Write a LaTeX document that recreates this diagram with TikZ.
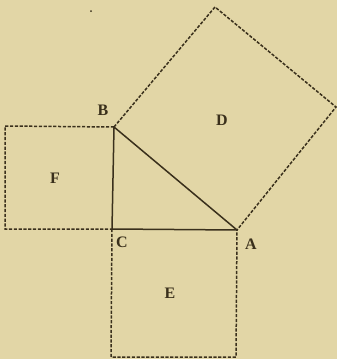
\documentclass[tikz,border=0pt]{standalone}
\usepackage{fontspec}
\setmainfont{Liberation Serif}
\definecolor{paper}{RGB}{226,214,166}
\definecolor{ink}{RGB}{58,48,28}
\begin{document}
\begin{tikzpicture}[x=1pt,y=-1pt,
  solidline/.style={draw=ink,line width=1.5pt},
  dashline/.style={draw=ink,line width=1.5pt,dash pattern=on 3.2pt off 1.6pt},
  lbl/.style={text=ink,font=\bfseries\fontsize{16}{16}\selectfont,inner sep=0pt}]
\fill[paper] (0,0) rectangle (337,359);
\useasboundingbox (0,0) rectangle (337,359);
\coordinate (B) at (114,127);
\coordinate (C) at (112,229);
\coordinate (A) at (237,230);
\coordinate (T) at (215,7);
\coordinate (R) at (336,107);
\coordinate (F1) at (5,126);
\coordinate (F2) at (5,229);
\coordinate (E1) at (111,357);
\coordinate (E2) at (236,357);
% triangle
\draw[solidline,line join=round] (B) -- (C) -- (A) -- cycle;
% square D
\draw[dashline] (B) -- (T) -- (R) -- (A);
% square F
\draw[dashline] (B) -- (F1) -- (F2) -- (C);
% square E
\draw[dashline] (C) -- (E1) -- (E2) -- (A);
% speck
\fill[ink] (91,11) circle (1pt);
% labels
\node[lbl] (lB) at (103,110) {B};
\node[lbl] (lD) at (222,120) {D};
\node[lbl] (lF) at (55,178) {F};
\node[lbl] (lC) at (122,242) {C};
\node[lbl] (lA) at (251,244) {A};
\node[lbl] (lE) at (170,293) {E};
\end{tikzpicture}
\end{document}
